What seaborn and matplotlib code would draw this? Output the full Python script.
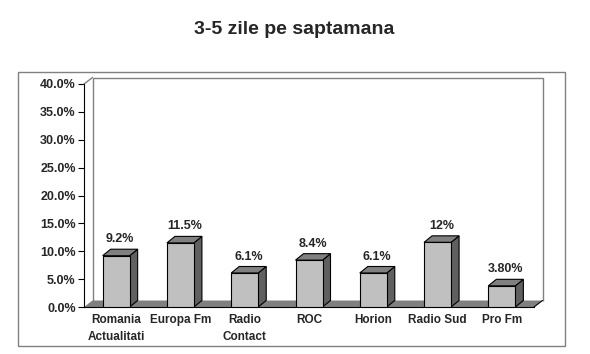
import matplotlib
matplotlib.use("Agg")
import matplotlib.pyplot as plt
import seaborn as sns
import pandas as pd
from matplotlib.patches import Polygon, Rectangle

# data
stations = ["Romania\nActualitati", "Europa Fm", "Radio\nContact", "ROC", "Horion", "Radio Sud", "Pro Fm"]
values = [9.2, 11.5, 6.1, 8.4, 6.1, 11.6, 3.8]
value_labels = ["9.2%", "11.5%", "6.1%", "8.4%", "6.1%", "12%", "3.80%"]
yticks = [0, 5, 10, 15, 20, 25, 30, 35, 40]

df = pd.DataFrame({"station": stations, "value": values})

sns.set_style("white")
plt.rcParams["font.family"] = ["Liberation Sans", "DejaVu Sans"]

W, H = 590, 354
fig = plt.figure(figsize=(W / 100, H / 100), dpi=100)
ax = fig.add_axes([84 / W, 1 - 307 / H, (534 - 84) / W, (307 - 84) / H])

bar_w = 0.42
sns.barplot(data=df, x="station", y="value", color="#c0c0c0", saturation=1,
            width=bar_w, edgecolor="black", linewidth=0.8, ax=ax, zorder=5)
ax.set_xlim(-0.5, len(stations) - 0.5)
ax.set_ylim(0, 40)

# depth offsets in pixels, converted to data units
px_x = (len(stations)) / (534 - 84)
px_y = 40 / (307 - 84)
dx, dy = 8 * px_x, 6.5 * px_y
wx, wy = 8.5 * px_x, 6.5 * px_y
x0, x1 = -0.5, len(stations) - 0.5

# back wall, left wall edge and floor
ax.add_patch(Polygon([(x0 + wx, wy), (x0 + wx, 40 + wy), (x1 + wx, 40 + wy), (x1 + wx, wy)],
                     closed=False, fill=False, edgecolor="#808080", lw=1, clip_on=False, zorder=1))
ax.plot([x0, x0 + wx], [40, 40 + wy], color="#808080", lw=1, clip_on=False, zorder=1)
ax.add_patch(Polygon([(x0, 0), (x1, 0), (x1 + wx, wy), (x0 + wx, wy)],
                     facecolor="#808080", edgecolor="none", clip_on=False, zorder=2))
ax.plot([x1, x1 + wx], [0, wy], color="black", lw=0.8, clip_on=False, zorder=3)

# 3d sides and tops for each bar
for p, lab in zip(ax.patches[:len(values)], value_labels):
    l = p.get_x()
    r = l + p.get_width()
    h = p.get_height()
    ax.add_patch(Polygon([(r, 0), (r + dx, dy), (r + dx, h + dy), (r, h)],
                         facecolor="#606060", edgecolor="black", lw=0.8, clip_on=False, zorder=4))
    ax.add_patch(Polygon([(l, h), (r, h), (r + dx, h + dy), (l + dx, h + dy)],
                         facecolor="#808080", edgecolor="black", lw=0.8, clip_on=False, zorder=4))
    ax.text((l + r) / 2 + dx / 2, h + dy + 0.7, lab, ha="center", va="bottom",
            fontsize=9, fontweight="bold", zorder=6)

for s in ["top", "right"]:
    ax.spines[s].set_visible(False)
ax.spines["left"].set_color("black")
ax.spines["bottom"].set_color("black")
ax.spines["left"].set_linewidth(0.8)
ax.spines["bottom"].set_linewidth(0.8)
ax.spines["left"].set_zorder(3)

ax.set_yticks(yticks)
ax.set_yticklabels([f"{t:.1f}%" for t in yticks], fontsize=9, fontweight="bold")
ax.set_xticks(range(len(stations)))
ax.set_xticklabels(stations, fontsize=8.5, fontweight="bold", linespacing=1.55)
ax.set_xticks([i - 0.5 for i in range(len(stations) + 1)], minor=True)
ax.tick_params(axis="x", which="major", length=0, pad=5)
ax.tick_params(axis="x", which="minor", length=4, direction="out", width=0.8, color="black")
ax.tick_params(axis="y", length=4, direction="out", width=0.8, color="black", left=True, pad=2)
ax.set_xlabel("")
ax.set_ylabel("")
ax.patch.set_alpha(0)

fig.patches.append(Rectangle((18 / W, 1 - 346 / H), (565 - 18) / W, (346 - 72) / H,
                             transform=fig.transFigure, fill=False, edgecolor="#808080", lw=1))
fig.text(294 / W, 1 - 30 / H, "3-5 zile pe saptamana", ha="center", va="center",
         fontsize=14, fontweight="bold")

fig.savefig("out.png", dpi=100)
